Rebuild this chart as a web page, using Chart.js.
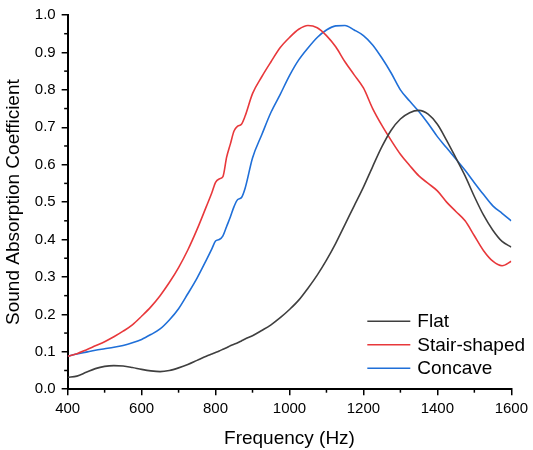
<!DOCTYPE html>
<html>
<head>
<meta charset="utf-8">
<script src="https://cdn.jsdelivr.net/npm/chart.js@4.4.0/dist/chart.umd.min.js"></script>
<style>
  html, body { margin: 0; padding: 0; background: #fff; }
  #wrap { width: 533px; height: 450px; }
</style>
</head>
<body>
<div id="wrap"><canvas id="absChart" width="533" height="450"></canvas></div>
<script>
// Frequency points (Hz)
const freq = [400,425,450,475,500,525,550,575,600,625,650,675,700,725,750,775,
  790,800,810,820,830,840,850,860,870,880,
  900,925,950,975,1000,1025,1050,1075,1100,1125,1150,1175,1200,1225,1250,1275,1300,
  1325,1350,1375,1400,1425,1450,1475,1500,1525,1550,1575,1600];

const flat = [0.032,0.035,0.045,0.055,0.061,0.063,0.062,0.058,0.053,0.049,0.047,0.05,0.057,0.066,0.077,0.088,
  0.094,0.098,0.102,0.107,0.111,0.116,0.12,0.124,0.129,0.134,
  0.143,0.157,0.172,0.191,0.213,0.238,0.27,0.305,0.345,0.39,0.44,0.49,0.54,0.595,0.648,0.692,0.722,
  0.739,0.745,0.735,0.708,0.665,0.618,0.57,0.515,0.465,0.425,0.395,0.38];

const stair = [0.088,0.095,0.105,0.116,0.127,0.14,0.155,0.172,0.195,0.22,0.25,0.285,0.325,0.372,0.427,0.488,
  0.525,0.553,0.562,0.568,0.62,0.655,0.69,0.703,0.708,0.73,
  0.79,0.835,0.875,0.913,0.94,0.962,0.972,0.966,0.945,0.915,0.875,0.84,0.805,0.75,0.705,0.665,0.628,
  0.598,0.57,0.55,0.53,0.5,0.475,0.45,0.41,0.37,0.342,0.33,0.342];

const concave = [0.088,0.094,0.099,0.104,0.108,0.112,0.117,0.124,0.133,0.146,0.161,0.185,0.215,0.255,0.297,0.345,
  0.375,0.396,0.4,0.41,0.435,0.46,0.488,0.507,0.512,0.537,
  0.618,0.68,0.74,0.788,0.838,0.88,0.912,0.94,0.96,0.971,0.972,0.96,0.945,0.92,0.885,0.845,0.8,
  0.77,0.742,0.71,0.675,0.645,0.615,0.585,0.552,0.52,0.49,0.47,0.45];

const seriesNames = ['Flat', 'Stair-shaped', 'Concave'];
const seriesColors = ['#3f3f3f', '#e8383b', '#1f6fd8'];
const xMajor = [400, 600, 800, 1000, 1200, 1400, 1600];

const FONT = '"Liberation Sans", Arial, sans-serif';

function toPoints(ys) {
  return freq.map((f, i) => ({ x: f, y: ys[i] }));
}

// minor ticks + legend in the lower right of the plot
const extras = {
  id: 'extras',
  afterDraw(chart) {
    const ctx = chart.ctx;
    const xs = chart.scales.x, ys = chart.scales.y;
    ctx.save();
    ctx.strokeStyle = '#000';
    ctx.lineWidth = 1.5;
    for (let v = 500; v <= 1500; v += 200) {
      const px = xs.getPixelForValue(v);
      ctx.beginPath();
      ctx.moveTo(px, ys.bottom);
      ctx.lineTo(px, ys.bottom + 3.5);
      ctx.stroke();
    }
    for (let v = 0.05; v < 1; v += 0.1) {
      const py = ys.getPixelForValue(v);
      ctx.beginPath();
      ctx.moveTo(xs.left, py);
      ctx.lineTo(xs.left - 3.5, py);
      ctx.stroke();
    }
    // legend
    const area = chart.chartArea;
    const x0 = area.right - 144, rowH = 23.5;
    let y = area.bottom - 68;
    ctx.font = '19px ' + FONT;
    ctx.textBaseline = 'middle';
    chart.data.datasets.forEach((ds) => {
      ctx.strokeStyle = ds.borderColor;
      ctx.lineWidth = 1.5;
      ctx.beginPath();
      ctx.moveTo(x0, y);
      ctx.lineTo(x0 + 43, y);
      ctx.stroke();
      ctx.fillStyle = '#000';
      ctx.fillText(ds.label, x0 + 50, y + 1);
      y += rowH;
    });
    ctx.restore();
  }
};

new Chart(document.getElementById('absChart'), {
  type: 'line',
  data: {
    datasets: [flat, stair, concave].map((ys, i) => ({
      label: seriesNames[i],
      data: toPoints(ys),
      borderColor: seriesColors[i],
      backgroundColor: seriesColors[i],
      borderWidth: 1.6,
      pointRadius: 0,
      cubicInterpolationMode: 'monotone',
      fill: false
    }))
  },
  options: {
    responsive: false,
    animation: false,
    layout: { padding: { top: 11, right: 20, left: 2, bottom: 0 } },
    plugins: {
      legend: { display: false },
      tooltip: { enabled: false }
    },
    scales: {
      x: {
        type: 'linear',
        min: 400,
        max: 1600,
        afterBuildTicks: (axis) => { axis.ticks = xMajor.map(v => ({ value: v })); },
        ticks: { color: '#000', font: { family: FONT, size: 15 }, padding: 5, maxRotation: 0,
          callback: (v) => String(v) },
        grid: { drawOnChartArea: false, drawTicks: true, tickLength: 6, color: '#000', lineWidth: 1.5 },
        border: { display: true, color: '#000', width: 2 },
        title: { display: true, text: 'Frequency (Hz)', color: '#000', font: { family: FONT, size: 19 }, padding: { top: 4, bottom: 0 } }
      },
      y: {
        min: 0,
        max: 1,
        ticks: { stepSize: 0.1, color: '#000', font: { family: FONT, size: 15 }, padding: 6,
          callback: (v) => v.toFixed(1) },
        grid: { drawOnChartArea: false, drawTicks: true, tickLength: 6, color: '#000', lineWidth: 1.5 },
        border: { display: true, color: '#000', width: 2 },
        title: { display: true, text: 'Sound Absorption Coefficient', color: '#000', font: { family: FONT, size: 19 }, padding: { top: 0, bottom: 4 } }
      }
    }
  },
  plugins: [extras]
});
</script>
</body>
</html>
